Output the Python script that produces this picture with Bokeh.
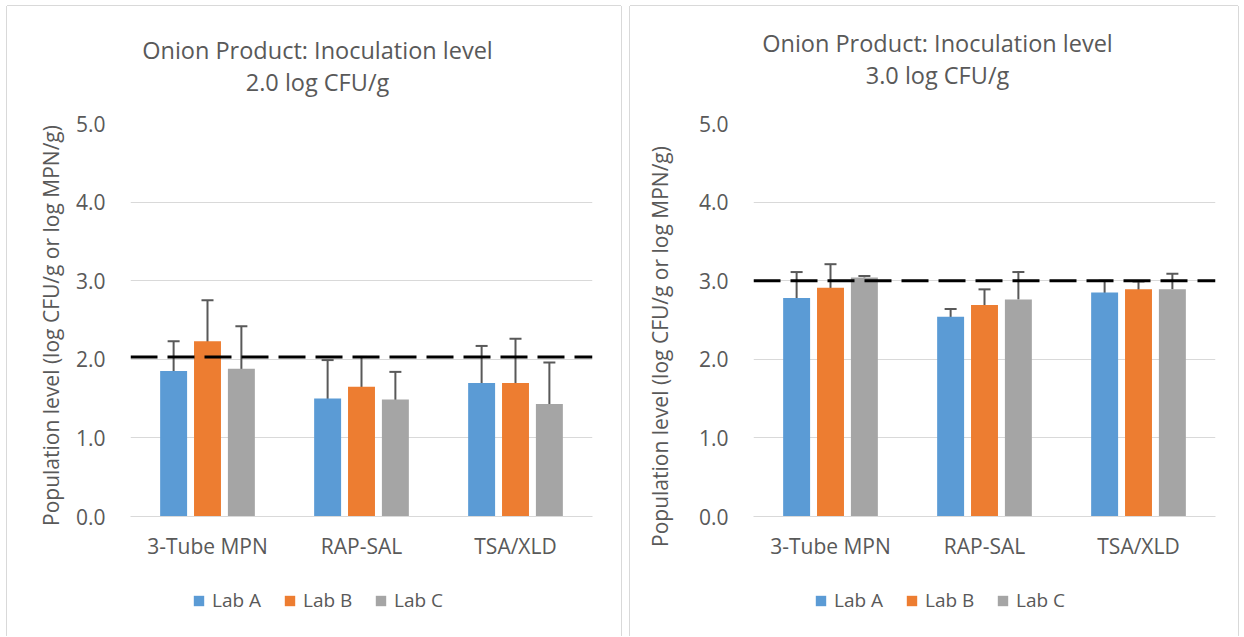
import math
from bokeh.plotting import figure
from bokeh.models import (FactorRange, Range1d, FixedTicker, PrintfTickFormatter, Whisker,
                          TeeHead, ColumnDataSource, Span, Label, Legend, LegendItem)
from bokeh.transform import dodge
from bokeh.layouts import row, column
from bokeh.embed import file_html
from bokeh.resources import INLINE

# ---------------- data ----------------
categories = ["3-Tube MPN", "RAP-SAL", "TSA/XLD"]
labs = ["Lab A", "Lab B", "Lab C"]
y_ticks = [0, 1, 2, 3, 4, 5]
y_axis_title = "Population level (log CFU/g or log MPN/g)"

left_title = ["Onion Product: Inoculation level", "2.0 log CFU/g"]
left_target = 2.03
left_lab_a = [1.85, 1.50, 1.70]
left_lab_b = [2.23, 1.65, 1.70]
left_lab_c = [1.88, 1.49, 1.43]
left_err_a = [0.38, 0.49, 0.47]
left_err_b = [0.52, 0.38, 0.56]
left_err_c = [0.54, 0.35, 0.53]

right_title = ["Onion Product: Inoculation level", "3.0 log CFU/g"]
right_target = 3.0
right_lab_a = [2.78, 2.54, 2.85]
right_lab_b = [2.91, 2.69, 2.89]
right_lab_c = [3.04, 2.76, 2.89]
right_err_up_a = [0.33, 0.10, 0.15]
right_err_up_b = [0.30, 0.20, 0.10]
right_err_up_c = [0.02, 0.35, 0.20]
right_err_dn_a = [0.33, 0.10, 0.15]
right_err_dn_b = [0.30, 0.20, 0.10]
right_err_dn_c = [0.0, 0.0, 0.0]

# ---------------- style ----------------
FONT = "Open Sans"
TXT = "#595959"
GRID = "#d9d9d9"
COLORS = ["#5b9bd5", "#ed7d31", "#a5a5a5"]
OFFSETS = [-0.22, 0.0, 0.22]
BAR_W = 0.175
PANEL_SHADOW = "-1px 0 0 0 #d9d9d9, 1px 0 0 0 #d9d9d9, 0 -1px 0 0 #d9d9d9"
CHART_BOTTOM = 50
LEGEND_H = 70


def make_panel(title_lines, target, means, err_up, err_dn, geo):
    width = 123 + 462 + geo["mr"]
    p = figure(x_range=FactorRange(factors=categories), y_range=Range1d(0, 5),
               frame_width=462, frame_height=393,
               min_border_left=123, min_border_right=geo["mr"],
               min_border_top=117, min_border_bottom=CHART_BOTTOM,
               output_backend="svg", toolbar_location=None)
    p.outline_line_color = None
    p.background_fill_color = "white"
    p.border_fill_color = "white"
    p.xgrid.grid_line_color = None
    p.ygrid.grid_line_color = GRID
    p.ygrid.grid_line_width = 1
    p.yaxis.ticker = FixedTicker(ticks=y_ticks)
    p.yaxis.formatter = PrintfTickFormatter(format="%.1f")
    for ax in (p.xaxis, p.yaxis):
        ax.major_tick_line_color = None
        ax.minor_tick_line_color = None
        ax.major_label_text_font = FONT
        ax.major_label_text_font_size = "21px"
        ax.major_label_text_color = TXT
    p.yaxis.axis_line_color = None
    p.yaxis.major_label_standoff = 19
    p.xaxis.axis_line_color = GRID
    p.xaxis.axis_line_width = 1
    p.xaxis.major_label_standoff = 9

    # legend strip: its own frame (so the legend is not clipped); its key bars lie
    # below its y range and only serve as legend swatches
    lg = figure(x_range=FactorRange(factors=categories), y_range=Range1d(10, 11),
                frame_width=width, frame_height=LEGEND_H,
                min_border_left=0, min_border_right=0, min_border_top=0, min_border_bottom=0,
                x_axis_location=None, y_axis_location=None,
                output_backend="svg", toolbar_location=None)
    lg.outline_line_color = None
    lg.xgrid.visible = False
    lg.ygrid.visible = False
    lg.border_fill_color = "white"

    items = []
    for i, lab in enumerate(labs):
        vals = means[i]
        src = ColumnDataSource(dict(
            cat=categories, val=vals,
            upper=[v + e for v, e in zip(vals, err_up[i])],
            lower=[v - e for v, e in zip(vals, err_dn[i])]))
        p.vbar(x=dodge("cat", OFFSETS[i], range=p.x_range), top="val", width=BAR_W,
               source=src, fill_color=COLORS[i], line_color=None)
        has_lower = any(e > 0 for e in err_dn[i])
        w = Whisker(base=dodge("cat", OFFSETS[i], range=p.x_range), upper="upper", lower="lower",
                    source=src, line_color=TXT, line_width=2,
                    upper_head=TeeHead(size=12, line_color=TXT, line_width=2),
                    lower_head=TeeHead(size=12, line_color=TXT, line_width=2) if has_lower else None)
        p.add_layout(w)
        key = lg.vbar(x=dodge("cat", OFFSETS[i], range=lg.x_range), top="val", width=BAR_W,
                      source=src, fill_color=COLORS[i], line_color=None)
        items.append(LegendItem(label=lab, renderers=[key]))

    p.add_layout(Span(location=target, dimension="width", line_color="black",
                      line_width=3, line_dash="27 10"))

    legend = Legend(items=items, location=(geo["lgx"], 23), orientation="horizontal",
                    glyph_width=13, glyph_height=13, label_height=13, label_width=60,
                    label_standoff=7, spacing=11, padding=0, margin=0,
                    border_line_color=None, background_fill_alpha=0,
                    label_text_font=FONT, label_text_font_size="19px",
                    label_text_color=TXT, label_text_baseline="middle")
    lg.add_layout(legend, "center")

    for k, line in enumerate(title_lines):
        p.add_layout(Label(x=geo["tx"], y=geo["ty"][k], x_units="canvas", y_units="canvas",
                           text=line, text_align="center", text_baseline="alphabetic",
                           text_font=FONT, text_font_size="23.5px", text_color=TXT), "above")

    p.add_layout(Label(x=geo["lx"], y=geo["ly"], x_units="canvas", y_units="canvas",
                       text=y_axis_title, angle=math.pi / 2, text_align="center",
                       text_baseline="middle", text_font=FONT, text_font_size="21px",
                       text_color=TXT), "left")
    return column(p, lg, margin=geo["margin"], styles={"box-shadow": PANEL_SHADOW})


left = make_panel(left_title, left_target,
                  [left_lab_a, left_lab_b, left_lab_c],
                  [left_err_a, left_err_b, left_err_c],
                  [left_err_a, left_err_b, left_err_c],
                  dict(mr=29, margin=(6, 4, 0, 7), tx=310, ty=[43, 75], lx=43, ly=319, lgx=185))
right = make_panel(right_title, right_target,
                   [right_lab_a, right_lab_b, right_lab_c],
                   [right_err_up_a, right_err_up_b, right_err_up_c],
                   [right_err_dn_a, right_err_dn_b, right_err_dn_c],
                   dict(mr=23, margin=(6, 0, 0, 5), tx=307, ty=[36, 68], lx=29, ly=340, lgx=184))

layout = row(left, right)
open("out.html", "w").write(file_html(layout, INLINE, "Onion Product"))
